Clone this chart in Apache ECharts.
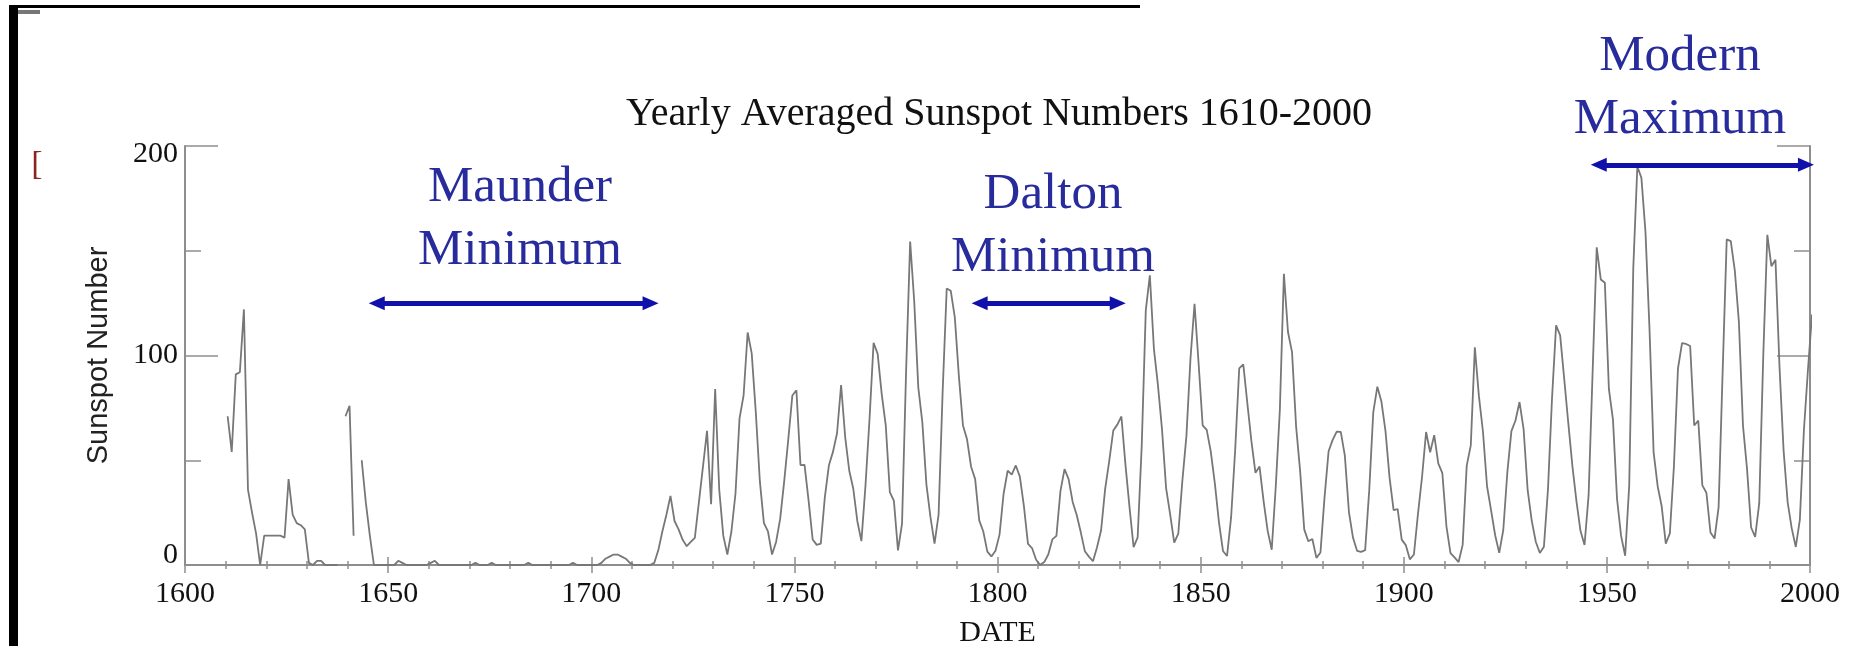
<!DOCTYPE html>
<html>
<head>
<meta charset="utf-8">
<title>Yearly Averaged Sunspot Numbers 1610-2000</title>
<script src="https://cdn.jsdelivr.net/npm/echarts@6/dist/echarts.min.js"></script>
<style>
  html, body { margin: 0; padding: 0; background: #fff; }
  #chart { width: 1856px; height: 646px; }
</style>
</head>
<body>
<div id="chart"></div>
<script>
// yearly means, one value per year starting at firstYear (null = no observations)
const firstYear = 1610;

const groupNumbers1610 = [
  71, 54, 91, 92, 122, 36, 25, 15, 0, 14,
  14, 14, 14, 14, 13, 41, 24, 20, 19, 17,
  1, 0, 2, 2, 0, 0, 0, 0, null, 71,
  76, 14, null, 50, 30, 14, 0, 0, 0, 0,
  0, 0, 2, 1, 0, 0, 0, 0, 0, 0,
  1, 2, 0, 0, 0, 0, 0, 0, 0, 0,
  0, 1, 0, 0, 0, 1, 0, 0, 0, 0,
  0, 0, 0, 0, 1, 0, 0, 0, 0, 0,
  0, 0, 0, 0, 0, 1, 0, 0, 0, 0
];

const sunspots1700 = [
  0, 0, 1, 3, 4, 5, 5, 4, 3, 1,
  0, 0, 0, 0, 0, 1, 7, 16, 24, 33,
  21, 17, 12, 9, 11, 13, 30, 47, 64, 29,
  84, 36, 14, 5, 16, 34, 70, 81, 111, 101,
  73, 40, 20, 16, 5, 11, 22, 40, 60, 80.9,
  83.4, 47.7, 47.8, 30.7, 12.2, 9.6, 10.2, 32.4, 47.6, 54.0,
  62.9, 85.9, 61.2, 45.1, 36.4, 20.9, 11.4, 37.8, 69.8, 106.1,
  100.8, 81.6, 66.5, 34.8, 30.6, 7.0, 19.8, 92.5, 154.4, 125.9,
  84.8, 68.1, 38.5, 22.8, 10.2, 24.1, 82.9, 132.0, 130.9, 118.1,
  89.9, 66.6, 60.0, 46.9, 41.0, 21.3, 16.0, 6.4, 4.1, 6.8
];

const sunspots1800 = [
  14.5, 34.0, 45.0, 43.1, 47.5, 42.2, 28.1, 10.1, 8.1, 2.5,
  0.0, 1.4, 5.0, 12.2, 13.9, 35.4, 45.8, 41.0, 30.1, 23.9,
  15.6, 6.6, 4.0, 1.8, 8.5, 16.6, 36.3, 49.6, 64.2, 67.0,
  70.9, 47.8, 27.5, 8.5, 13.2, 56.9, 121.5, 138.3, 103.2, 85.7,
  64.6, 36.7, 24.2, 10.7, 15.0, 40.1, 61.5, 98.5, 124.7, 96.3,
  66.6, 64.5, 54.1, 39.0, 20.6, 6.7, 4.3, 22.7, 54.8, 93.8,
  95.8, 77.2, 59.1, 44.0, 47.0, 30.5, 16.3, 7.3, 37.6, 74.0,
  139.0, 111.2, 101.6, 66.2, 44.7, 17.0, 11.3, 12.4, 3.4, 6.0,
  32.3, 54.3, 59.7, 63.7, 63.5, 52.2, 25.4, 13.1, 6.8, 6.3,
  7.1, 35.6, 73.0, 85.1, 78.0, 64.0, 41.8, 26.2, 26.7, 12.1
];

const sunspots1900 = [
  9.5, 2.7, 5.0, 24.4, 42.0, 63.5, 53.8, 62.0, 48.5, 43.9,
  18.6, 5.7, 3.6, 1.4, 9.6, 47.4, 57.1, 103.9, 80.6, 63.6,
  37.6, 26.1, 14.2, 5.8, 16.7, 44.3, 63.9, 69.0, 77.8, 64.9,
  35.7, 21.2, 11.1, 5.7, 8.7, 36.1, 79.7, 114.4, 109.6, 88.8,
  67.8, 47.5, 30.6, 16.3, 9.6, 33.2, 92.6, 151.6, 136.3, 134.7,
  83.9, 69.4, 31.5, 13.9, 4.4, 38.0, 141.7, 190.2, 184.8, 159.0,
  112.3, 53.9, 37.6, 27.9, 10.2, 15.1, 47.0, 93.8, 105.9, 105.5,
  104.5, 66.6, 68.9, 38.0, 34.5, 15.5, 12.6, 27.5, 92.5, 155.4,
  154.6, 140.4, 115.9, 66.6, 45.9, 17.9, 13.4, 29.4, 100.2, 157.6,
  142.6, 145.7, 94.3, 54.6, 29.9, 17.5, 8.6, 21.5, 64.3, 93.3,
  119.6
];

const dateTicks = [1600, 1650, 1700, 1750, 1800, 1850, 1900, 1950, 2000];
const countTicks = [0, 100, 200];

// the three marked periods: arrow ends (years) and arrow height (sunspot number)
const periodNames = ['Maunder\nMinimum', 'Dalton\nMinimum', 'Modern\nMaximum'];
const periodFrom = [1647.2, 1795.6, 1948.0];
const periodTo = [1714.6, 1829.6, 1999.0];
const periodLevel = [125, 125, 191];

const chart = echarts.init(document.getElementById('chart'));

const sunspots = [].concat(groupNumbers1610, sunspots1700, sunspots1800, sunspots1900);
// yearly averages are drawn at mid-year
const seriesData = sunspots.map((v, i) => [firstYear + i + 0.5, v]);

const serif = 'Liberation Serif, Times New Roman, serif';
const axisGrey = '#8e8e8e';
const textBlue = '#272b9b';
const arrowBlue = '#1010aa';

const tickLine = { color: axisGrey, width: 1.5 };

function dateAxis(position) {
  return {
    type: 'value',
    position: position,
    min: dateTicks[0],
    max: dateTicks[dateTicks.length - 1],
    interval: dateTicks[1] - dateTicks[0],
    splitLine: { show: false },
    axisLine: { show: true, lineStyle: { color: axisGrey, width: 2 } },
    axisTick: { show: true, inside: true, length: 8, lineStyle: tickLine },
    minorTick: { show: true, splitNumber: 5, length: 4, lineStyle: tickLine },
    axisLabel: {
      show: position === 'bottom',
      margin: 14,
      fontFamily: serif,
      fontSize: 30,
      color: '#111',
      formatter: v => String(v)
    }
  };
}

function countAxis(position) {
  const top = countTicks[countTicks.length - 1];
  return {
    type: 'value',
    position: position,
    min: countTicks[0],
    max: top,
    interval: countTicks[1] - countTicks[0],
    splitLine: { show: false },
    axisLine: { show: true, lineStyle: { color: axisGrey, width: 2 } },
    axisTick: { show: true, inside: true, length: 33, lineStyle: tickLine },
    minorTick: { show: true, splitNumber: 2, length: 16, lineStyle: tickLine },
    axisLabel: {
      show: position === 'left',
      margin: 7,
      fontFamily: serif,
      fontSize: 30,
      color: '#111',
      // IDL style: end labels sit inside the axis range
      formatter: function (v) {
        if (v === top) return '{down|' + v + '}';
        if (v === countTicks[0]) return '{up|' + v + '}';
        return '{mid|' + v + '}';
      },
      rich: {
        down: { fontFamily: serif, fontSize: 30, color: '#111', padding: [16, 0, 0, 0] },
        up: { fontFamily: serif, fontSize: 30, color: '#111', padding: [0, 0, 20, 0] },
        mid: { fontFamily: serif, fontSize: 30, color: '#111' }
      }
    }
  };
}

const bottomAxis = dateAxis('bottom');
bottomAxis.name = 'DATE';
bottomAxis.nameLocation = 'middle';
bottomAxis.nameGap = 53;
bottomAxis.nameMoveOverlap = false;
bottomAxis.nameTextStyle = { fontFamily: serif, fontSize: 30, color: '#111' };

const leftAxis = countAxis('left');
leftAxis.name = 'Sunspot Number';
leftAxis.nameLocation = 'middle';
leftAxis.nameRotate = 90;
leftAxis.nameGap = 72;
leftAxis.nameMoveOverlap = false;
leftAxis.nameTextStyle = { fontFamily: 'Liberation Sans, Arial, sans-serif', fontSize: 29, color: '#222' };

const option = {
  backgroundColor: '#fff',
  animation: false,
  title: {
    text: 'Yearly Averaged Sunspot Numbers 1610-2000',
    left: 999,
    top: 94,
    textAlign: 'center',
    padding: 0,
    textStyle: { fontFamily: serif, fontSize: 40, fontWeight: 'normal', color: '#111' }
  },
  grid: { left: 185, right: 46, top: 146, bottom: 81, containLabel: false, outerBoundsMode: 'none' },
  xAxis: [bottomAxis, dateAxis('top')],
  yAxis: [leftAxis, countAxis('right')],
  series: [
    {
      type: 'line',
      xAxisIndex: 0,
      yAxisIndex: 0,
      data: seriesData,
      symbol: 'none',
      showSymbol: false,
      connectNulls: false,
      silent: true,
      lineStyle: { color: '#777', width: 1.8 }
    },
    {
      type: 'line',
      xAxisIndex: 0,
      yAxisIndex: 0,
      data: [],
      clip: false,
      silent: true,
      markLine: {
        silent: true,
        animation: false,
        symbol: ['triangle', 'triangle'],
        symbolSize: [14, 16],
        label: { show: false },
        lineStyle: { color: arrowBlue, width: 5, type: 'solid' },
        data: periodNames.map((name, i) => [
          { coord: [periodFrom[i], periodLevel[i]], itemStyle: { color: arrowBlue } },
          { coord: [periodTo[i], periodLevel[i]], itemStyle: { color: arrowBlue } }
        ])
      }
    }
  ],
  graphic: [
    // remains of the slide frame
    { type: 'rect', shape: { x: 9, y: 5, width: 9, height: 641 }, style: { fill: '#000' } },
    { type: 'rect', shape: { x: 9, y: 5, width: 1131, height: 3 }, style: { fill: '#000' } },
    { type: 'rect', shape: { x: 18, y: 10, width: 22, height: 4 }, style: { fill: '#777' } },
    { type: 'text', x: 37, y: 165, style: { text: '[', fontFamily: serif, fontSize: 34, fill: '#8b2525', align: 'center', verticalAlign: 'middle' } },
    // period labels
    { type: 'text', x: 520, y: 219, style: { text: periodNames[0], fontFamily: serif, fontSize: 51, lineHeight: 63, fill: textBlue, align: 'center', verticalAlign: 'middle' } },
    { type: 'text', x: 1053, y: 226, style: { text: periodNames[1], fontFamily: serif, fontSize: 51, lineHeight: 63, fill: textBlue, align: 'center', verticalAlign: 'middle' } },
    { type: 'text', x: 1680, y: 88, style: { text: periodNames[2], fontFamily: serif, fontSize: 51, lineHeight: 63, fill: textBlue, align: 'center', verticalAlign: 'middle' } }
  ]
};

chart.setOption(option);
</script>
</body>
</html>
